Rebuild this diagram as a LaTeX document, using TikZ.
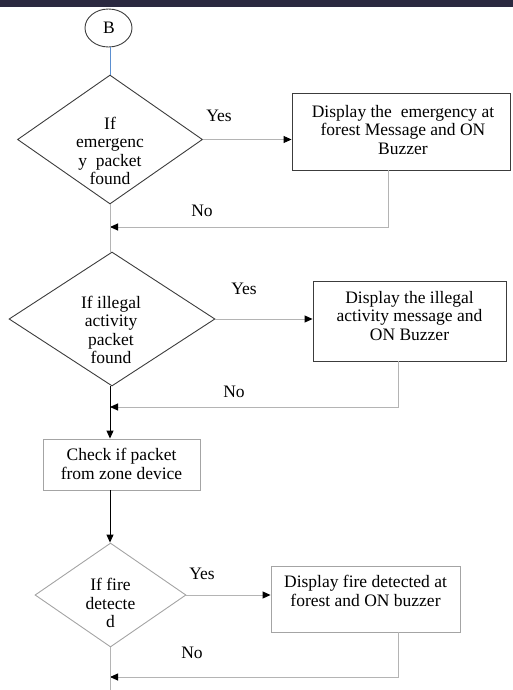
\documentclass[tikz,border=0pt]{standalone}
\usepackage{fontspec}
\setmainfont{Liberation Serif}
\usetikzlibrary{shapes.geometric,arrows.meta}
\definecolor{topbar}{HTML}{2B2940}
\definecolor{darkline}{HTML}{3C3C3C}
\definecolor{lightline}{HTML}{A4A4A4}
\definecolor{connline}{HTML}{B4B4B4}
\definecolor{blueline}{HTML}{5B8FD0}
\tikzset{
  txt/.style={font=\fontsize{17.5}{18.5}\selectfont, align=center, inner sep=0pt},
  lbl/.style={font=\fontsize{17.5}{18.5}\selectfont, inner sep=0pt},
  dia/.style={draw=#1, diamond, line width=0.9pt, inner sep=0pt},
  boxx/.style={draw=#1, rectangle, line width=0.9pt, inner sep=0pt},
  conn/.style={draw=connline, line width=0.9pt},
  arr/.style={conn, -{Triangle[length=8pt,width=7pt,color=black]}},
  blk/.style={draw=black, line width=1pt, -{Triangle[length=8pt,width=7pt,color=black]}},
}
\begin{document}
\begin{tikzpicture}[x=1pt,y=-1pt]
\useasboundingbox (0,0) rectangle (513,690);
\fill[topbar] (0,0) rectangle (513,7);
% start
\node[draw=darkline, ellipse, line width=0.9pt, minimum width=47pt, minimum height=38pt, inner sep=0pt] (B) at (108.5,28) {};
\node[txt] (Bt) at (109,28) {B};
% decision 1
\node[dia=darkline, minimum width=185pt, minimum height=129pt] (d1) at (110,139.5) {};
\node[txt] (d1t) at (110,151) {If\\emergenc\\y\ \ packet\\found};
\node[boxx=darkline, minimum width=218pt, minimum height=77pt] (b1) at (401,131.5) {};
\node[txt] (b1t) at (403,130) {Display the\ \ emergency at\\forest Message and ON\\Buzzer};
\node[lbl] (y1) at (219,116) {Yes};
\node[lbl] (n1) at (202,211) {No};
\coordinate (c1) at (388,227);
% decision 2
\node[dia=darkline, minimum width=206pt, minimum height=134pt] (d2) at (112,319) {};
\node[txt] (d2t) at (111,330) {If illegal\\activity\\packet\\found};
\node[boxx=darkline, minimum width=193pt, minimum height=80pt] (b2) at (409.5,321) {};
\node[txt] (b2t) at (409.5,316) {Display the illegal\\activity message and\\ON Buzzer};
\node[lbl] (y2) at (244,289) {Yes};
\node[lbl] (n2) at (234,392) {No};
\coordinate (c2) at (398,407);
% check box
\node[boxx=lightline, minimum width=157pt, minimum height=51pt] (b3) at (121.5,464.5) {};
\node[txt] (b3t) at (121.5,464) {Check if packet\\from zone device};
% decision 3
\node[dia=lightline, minimum width=151pt, minimum height=104pt] (d3) at (110.5,595) {};
\node[txt] (d3t) at (110.5,603) {If fire\\detecte\\d};
\node[boxx=lightline, minimum width=189pt, minimum height=66pt] (b4) at (365.5,599) {};
\node[txt] (b4t) at (365.5,591) {Display fire detected at\\forest and ON buzzer};
\node[lbl] (y3) at (202,574) {Yes};
\node[lbl] (n3) at (192,653) {No};
\coordinate (c3) at (398,677);
\coordinate (endc) at (110,690);
% connectors
\draw[blueline, line width=0.9pt] (B.south -| d1.north) -- (d1.north);
\draw[arr] (d1.east) -- (d1.east -| b1.west);
\draw[arr] (b1.south -| c1) -- (c1) -- (c1 -| d1.south);
\draw[conn] (d1.south) -- (d2.north -| d1.south);
\draw[arr] (d2.east) -- (d2.east -| b2.west);
\draw[arr] (b2.south -| c2) -- (c2) -- (c2 -| d1.south);
\draw[blk] (d2.south -| d1.south) -- (b3.north -| d1.south);
\draw[blk] (b3.south -| d1.south) -- (d3.north -| d1.south);
\draw[arr] (d3.east) -- (d3.east -| b4.west);
\draw[arr] (b4.south -| c3) -- (c3) -- (c3 -| d1.south);
\draw[conn] (d3.south -| d1.south) -- (endc);
\end{tikzpicture}
\end{document}
